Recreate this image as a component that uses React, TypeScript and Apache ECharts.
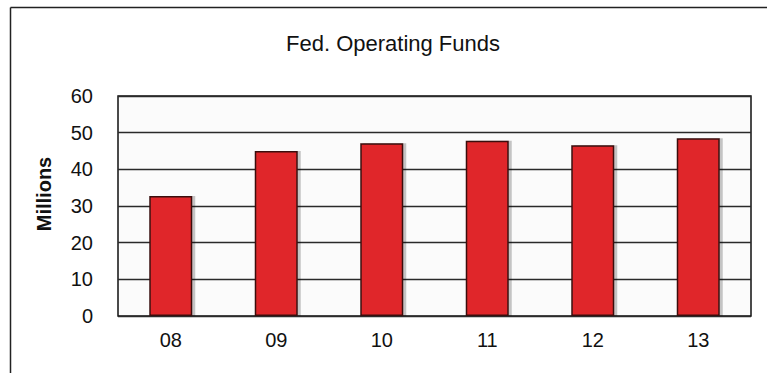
import React, { useEffect, useRef } from "react";
import * as echarts from "echarts";

const categories = ["08", "09", "10", "11", "12", "13"];
const values = [32.7, 45.0, 47.1, 47.8, 46.6, 48.5];
const titleText = "Fed. Operating Funds";
const yAxisName = "Millions";

export default function App() {
  const ref = useRef<HTMLDivElement>(null);
  useEffect(() => {
    if (!ref.current) return;
    const chart = echarts.init(ref.current, null, { renderer: "svg" });
    const font = "Liberation Sans, Arial, sans-serif";
    chart.setOption({
      animation: false,
      backgroundColor: "#ffffff",
      title: {
        text: titleText,
        left: 388,
        top: 27,
        textAlign: "center",
        textStyle: { fontFamily: font, fontSize: 22, fontWeight: "normal", color: "#111" },
      },
      graphic: [
        { type: "line", shape: { x1: 10.5, y1: 7.5, x2: 767, y2: 7.5 }, style: { stroke: "#222", lineWidth: 1.5 } },
        { type: "line", shape: { x1: 10.5, y1: 7.5, x2: 10.5, y2: 373 }, style: { stroke: "#222", lineWidth: 1.5 } },
        {
          type: "text",
          x: 44,
          y: 194,
          rotation: Math.PI / 2,
          style: {
            text: yAxisName,
            fontFamily: font,
            fontSize: 20,
            fontWeight: "bold",
            fill: "#111",
            align: "center",
            verticalAlign: "middle",
          },
        },
      ],
      grid: {
        left: 118,
        top: 96,
        right: 16,
        bottom: 57,
        show: true,
        borderColor: "#111",
        borderWidth: 1.5,
        backgroundColor: "#fbfbfb",
      },
      xAxis: {
        type: "category",
        data: categories,
        axisLine: { show: false },
        axisTick: { show: false },
        axisLabel: { fontFamily: font, fontSize: 20, color: "#111", margin: 14 },
      },
      yAxis: {
        type: "value",
        min: 0,
        max: 60,
        interval: 10,
        axisLine: { show: false },
        axisTick: { show: false },
        axisLabel: { fontFamily: font, fontSize: 20, color: "#111", margin: 25 },
        splitLine: { lineStyle: { color: "#2a2a2a", width: 1.3 } },
      },
      series: [
        {
          type: "bar",
          data: values,
          barWidth: 43,
          itemStyle: {
            color: "#e0282c",
            borderColor: "#3a0c0c",
            borderWidth: 1.5,
            shadowColor: "rgba(0,0,0,0.22)",
            shadowOffsetX: 3,
            shadowBlur: 0,
          },
        },
      ],
    });
    return () => chart.dispose();
  }, []);
  return (
    <div
      ref={ref}
      style={{ position: "absolute", left: 0, top: 0, width: 767, height: 373 }}
    />
  );
}
